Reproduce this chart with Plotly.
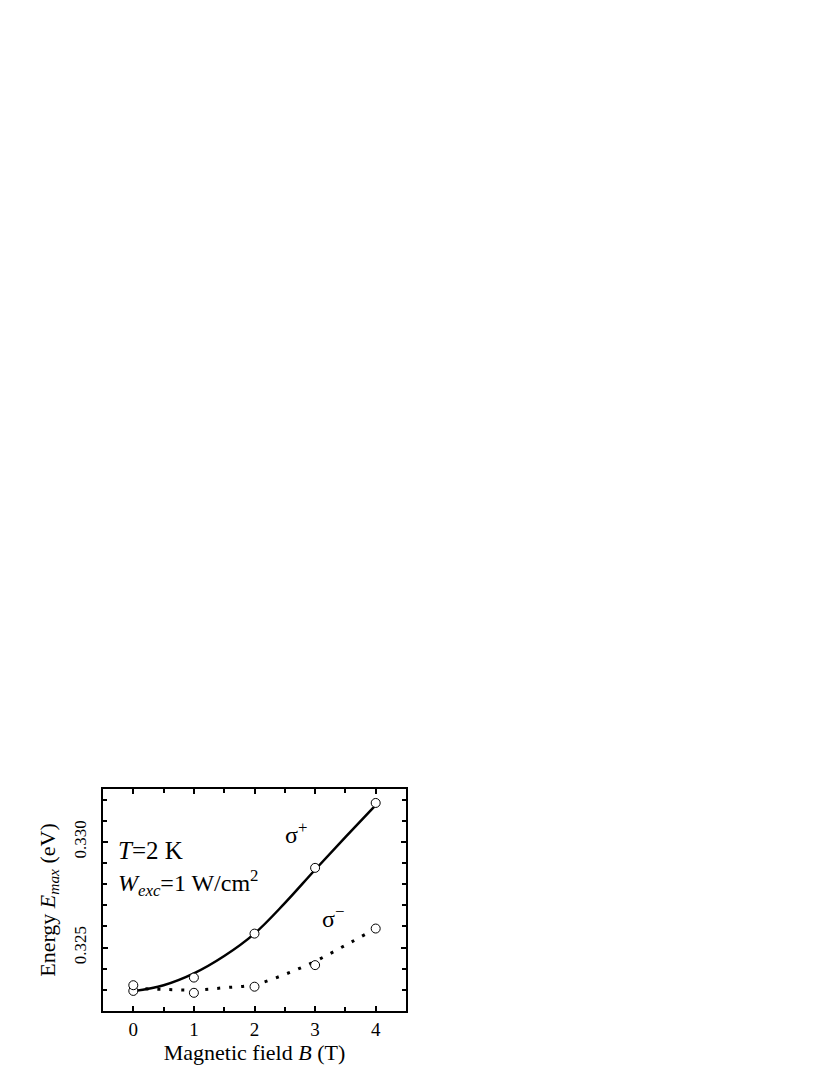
import plotly.graph_objects as go

# measured points
B_pts = [0, 1, 2, 3, 4]
E_plus = [0.32295, 0.32358, 0.32566, 0.32877, 0.33184]
E_minus = [0.32322, 0.32286, 0.32315, 0.32417, 0.32590]

# fitted curves
B_fit = [0, 0.5, 1, 1.5, 2, 2.5, 3, 3.5, 4]
fit_plus = [0.32294, 0.32322, 0.32378, 0.32460, 0.32566, 0.32710, 0.32868, 0.33022, 0.33174]
fit_minus = [0.32307, 0.32302, 0.32299, 0.32310, 0.32325, 0.32373, 0.32435, 0.32511, 0.32590]

serif = "Liberation Serif"

fig = go.Figure()

fig.add_trace(go.Scatter(x=B_fit, y=fit_plus, mode="lines",
                         line=dict(color="black", width=2.5, shape="spline")))
fig.add_trace(go.Scatter(x=B_fit, y=fit_minus, mode="lines",
                         line=dict(color="black", width=3, shape="spline", dash="3px,9px")))
fig.add_trace(go.Scatter(x=B_pts, y=E_plus, mode="markers",
                         marker=dict(symbol="circle", size=9, color="white",
                                     line=dict(color="black", width=1))))
fig.add_trace(go.Scatter(x=B_pts, y=E_minus, mode="markers",
                         marker=dict(symbol="circle", size=9, color="white",
                                     line=dict(color="black", width=1))))

fig.add_annotation(x=-0.28, y=0.3296, xref="x", yref="y", xanchor="left",
                   text="<i>T</i>=2 K", showarrow=False,
                   font=dict(family=serif, size=25, color="black"))
fig.add_annotation(x=-0.28, y=0.32805, xref="x", yref="y", xanchor="left",
                   text="<i>W</i><sub><i>exc</i></sub>=1 W/cm<sup>2</sup>", showarrow=False,
                   font=dict(family=serif, size=24, color="black"))
fig.add_annotation(x=2.47, y=0.3304, xref="x", yref="y", xanchor="left",
                   text="σ<sup>+</sup>", showarrow=False,
                   font=dict(family=serif, size=24, color="black"))
fig.add_annotation(x=3.08, y=0.32645, xref="x", yref="y", xanchor="left",
                   text="σ<sup>−</sup>", showarrow=False,
                   font=dict(family=serif, size=24, color="black"))

axis_style = dict(showline=True, linecolor="black", linewidth=2, mirror="allticks",
                  ticks="inside", ticklen=5, tickwidth=1.5, tickcolor="black",
                  showgrid=False, zeroline=False)

fig.update_xaxes(range=[-0.5, 4.5], dtick=1, tick0=0,
                 tickfont=dict(family=serif, size=19, color="black"),
                 minor=dict(ticks="inside", dtick=0.5, ticklen=4, tickcolor="black", tickwidth=1.5),
                 title=dict(text="Magnetic field <i>B</i> (T)", standoff=2,
                            font=dict(family=serif, size=22, color="black")),
                 **axis_style)
fig.update_yaxes(range=[0.322, 0.3325], dtick=0.005, tick0=0.325, tickformat=".3f",
                 tickangle=-90, ticklabelstandoff=8,
                 tickfont=dict(family=serif, size=17, color="black"),
                 minor=dict(ticks="inside", dtick=0.001, ticklen=4, tickcolor="black", tickwidth=1.5),
                 title=dict(text="Energy <i>E</i><sub><i>max</i></sub> (eV)", standoff=10,
                            font=dict(family=serif, size=22, color="black")),
                 **axis_style)

fig.update_layout(width=830, height=1075, showlegend=False,
                  plot_bgcolor="white", paper_bgcolor="white",
                  margin=dict(l=95, r=432, t=781, b=72, autoexpand=False))

fig.write_html("out.html")
